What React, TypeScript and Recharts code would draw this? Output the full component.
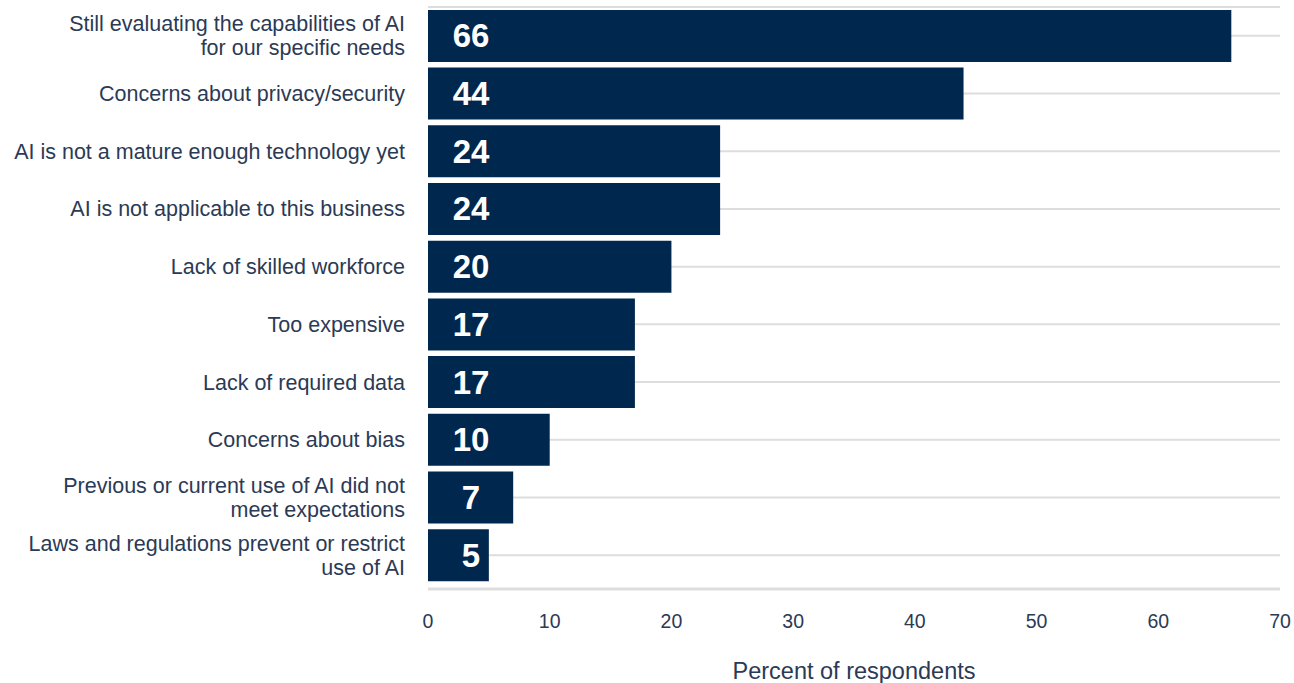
import { BarChart, Bar, XAxis, YAxis, CartesianGrid, LabelList } from "recharts";

const categories = [
  ["Still evaluating the capabilities of AI", "for our specific needs"],
  ["Concerns about privacy/security"],
  ["AI is not a mature enough technology yet"],
  ["AI is not applicable to this business"],
  ["Lack of skilled workforce"],
  ["Too expensive"],
  ["Lack of required data"],
  ["Concerns about bias"],
  ["Previous or current use of AI did not", "meet expectations"],
  ["Laws and regulations prevent or restrict", "use of AI"],
];
const values = [66, 44, 24, 24, 20, 17, 17, 10, 7, 5];
const xTicks = [0, 10, 20, 30, 40, 50, 60, 70];

const data = categories.map((c, i) => ({ name: c.join("\n"), value: values[i] }));

const textColor = "#2b3a55";
const font = "Arial, 'Liberation Sans', sans-serif";

function CategoryTick(props: any) {
  const { x, y, payload } = props;
  const lines = String(payload.value).split("\n");
  const lh = 24;
  const start = -((lines.length - 1) * lh) / 2;
  return (
    <text x={x} y={y} textAnchor="end" fill={textColor} fontSize={21.5} fontFamily={font}>
      {lines.map((l: string, i: number) => (
        <tspan key={i} x={x} dy={i === 0 ? start + 7.5 : lh}>
          {l}
        </tspan>
      ))}
    </text>
  );
}

function BarValue(props: any) {
  const { x, y, height, value } = props;
  return (
    <text
      x={x + 43}
      y={y + height / 2 + 11.5}
      textAnchor="middle"
      fill="#ffffff"
      fontSize={33}
      fontWeight="bold"
      fontFamily={font}
    >
      {value}
    </text>
  );
}

export default function App() {
  return (
    <div style={{ width: 1294, height: 683, background: "#fff" }}>
      <style>{`body{margin:0}`}</style>
      <BarChart
        width={1294}
        height={683}
        data={data}
        layout="vertical"
        barCategoryGap="5%"
        margin={{ top: 7, right: 14, left: 0, bottom: 0 }}
      >
        <CartesianGrid horizontal vertical={false} stroke="#dddddd" strokeWidth={2} />
        <XAxis
          type="number"
          domain={[0, 70]}
          ticks={xTicks}
          axisLine={{ stroke: "#dddddd", strokeWidth: 3 }}
          tickLine={false}
          tick={{ fill: textColor, fontSize: 19.5, fontFamily: font }}
          tickMargin={19}
          height={94}
          label={{
            value: "Percent of respondents",
            position: "insideBottom",
            offset: 4,
            fill: textColor,
            fontSize: 23.5,
            fontFamily: font,
          }}
        />
        <YAxis
          type="category"
          dataKey="name"
          width={428}
          axisLine={false}
          tickLine={false}
          tick={<CategoryTick />}
          tickMargin={17}
          padding={{ top: 0, bottom: 5 }}
        />
        <Bar dataKey="value" fill="#00284f" isAnimationActive={false}>
          <LabelList dataKey="value" content={<BarValue />} />
        </Bar>
      </BarChart>
    </div>
  );
}
